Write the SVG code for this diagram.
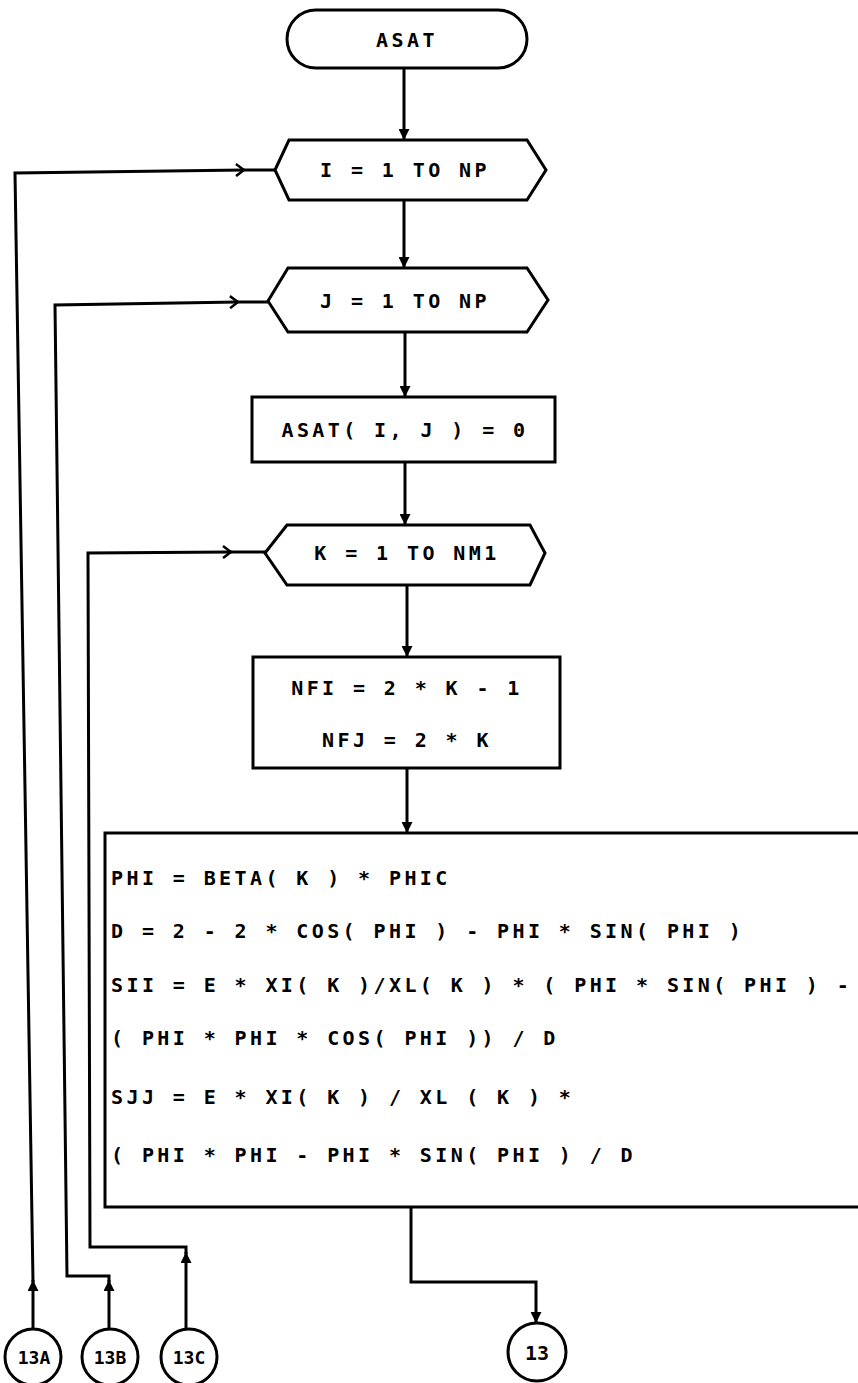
<svg xmlns="http://www.w3.org/2000/svg" width="858" height="1383" viewBox="0 0 858 1383">
<defs>
<style>
.s{fill:#fff;stroke:#000;stroke-width:3}
.c{fill:none;stroke:#000;stroke-width:3}
.t{font-family:"DejaVu Sans Mono","Liberation Mono",monospace;font-size:20px;font-weight:bold;letter-spacing:3.4px;fill:#000}
.m{text-anchor:middle}
.k{font-size:18px;letter-spacing:0}
</style>
<marker id="ah" viewBox="0 0 10 10" refX="10" refY="5" markerWidth="11" markerHeight="11" markerUnits="userSpaceOnUse" orient="auto">
<path d="M0,0 L10,5 L0,10 Z" fill="#000"/>
</marker>
<marker id="chev" viewBox="0 0 10 14" refX="9" refY="7" markerWidth="10" markerHeight="14" markerUnits="userSpaceOnUse" orient="auto">
<path d="M1,1 L9,7 L1,13" fill="none" stroke="#000" stroke-width="2.5"/>
</marker>
</defs>
<rect width="858" height="1383" fill="#fff"/>
<g id="connectors">
<path class="c" d="M404,68 V140" marker-end="url(#ah)"/>
<path class="c" d="M404,200 V268" marker-end="url(#ah)"/>
<path class="c" d="M405,332 V397" marker-end="url(#ah)"/>
<path class="c" d="M405,462 V525" marker-end="url(#ah)"/>
<path class="c" d="M407,585 V657" marker-end="url(#ah)"/>
<path class="c" d="M407,768 V833" marker-end="url(#ah)"/>
<path class="c" d="M411,1207 V1282 H536 V1323" marker-end="url(#ah)"/>
<path class="c" d="M33,1329 V1280" marker-end="url(#ah)"/>
<path class="c" d="M33,1282 L15,173 L244,170" marker-end="url(#chev)"/>
<path class="c" d="M243,170 H275"/>
<path class="c" d="M109,1329 V1280" marker-end="url(#ah)"/>
<path class="c" d="M109,1282 V1276 H67 L55,305 L238,302" marker-end="url(#chev)"/>
<path class="c" d="M237,302 H268"/>
<path class="c" d="M186,1329 V1252" marker-end="url(#ah)"/>
<path class="c" d="M186,1254 V1247 H90 L88,553 L231,552" marker-end="url(#chev)"/>
<path class="c" d="M230,552 H265"/>
</g>
<g id="n_start">
<rect class="s" x="287" y="10" width="240" height="58" rx="29"/>
<text class="t m" x="407" y="47">ASAT</text>
</g>
<g id="n_loopI">
<path class="s" d="M275,170 L289,140 H527 L546,170 L527,200 H289 Z"/>
<text class="t m" x="405" y="177">I = 1 TO NP</text>
</g>
<g id="n_loopJ">
<path class="s" d="M268,301 L288,268 H527 L548,300 L527,332 H288 Z"/>
<text class="t m" x="405" y="308">J = 1 TO NP</text>
</g>
<g id="n_init">
<rect class="s" x="252" y="397" width="303" height="65"/>
<text class="t m" x="405" y="437">ASAT( I, J ) = 0</text>
</g>
<g id="n_loopK">
<path class="s" d="M265,553 L287,525 H530 L545,553 L530,585 H287 Z"/>
<text class="t m" x="407" y="560">K = 1 TO NM1</text>
</g>
<g id="n_nf">
<rect class="s" x="253" y="657" width="307" height="111"/>
<text class="t m" x="407" y="695">NFI = 2 * K - 1</text>
<text class="t m" x="407" y="747">NFJ = 2 * K</text>
</g>
<g id="n_calc">
<rect class="s" x="105" y="833" width="770" height="374"/>
<text class="t" x="111" y="885">PHI = BETA( K ) * PHIC</text>
<text class="t" x="111" y="938">D = 2 - 2 * COS( PHI ) - PHI * SIN( PHI )</text>
<text class="t" x="111" y="992">SII = E * XI( K )/XL( K ) * ( PHI * SIN( PHI ) -</text>
<text class="t" x="111" y="1045">( PHI * PHI * COS( PHI )) / D</text>
<text class="t" x="111" y="1104">SJJ = E * XI( K ) / XL ( K ) *</text>
<text class="t" x="111" y="1162">( PHI * PHI - PHI * SIN( PHI ) / D</text>
</g>
<g id="c13A">
<circle class="s" cx="33" cy="1357" r="28"/>
<text class="t m k" x="34" y="1364">13A</text>
</g>
<g id="c13B">
<circle class="s" cx="110" cy="1357" r="28"/>
<text class="t m k" x="110" y="1364">13B</text>
</g>
<g id="c13C">
<circle class="s" cx="189" cy="1357" r="28"/>
<text class="t m k" x="189" y="1364">13C</text>
</g>
<g id="c13">
<circle class="s" cx="537" cy="1352" r="29"/>
<text class="t m" x="537" y="1360" style="letter-spacing:0">13</text>
</g>
</svg>
